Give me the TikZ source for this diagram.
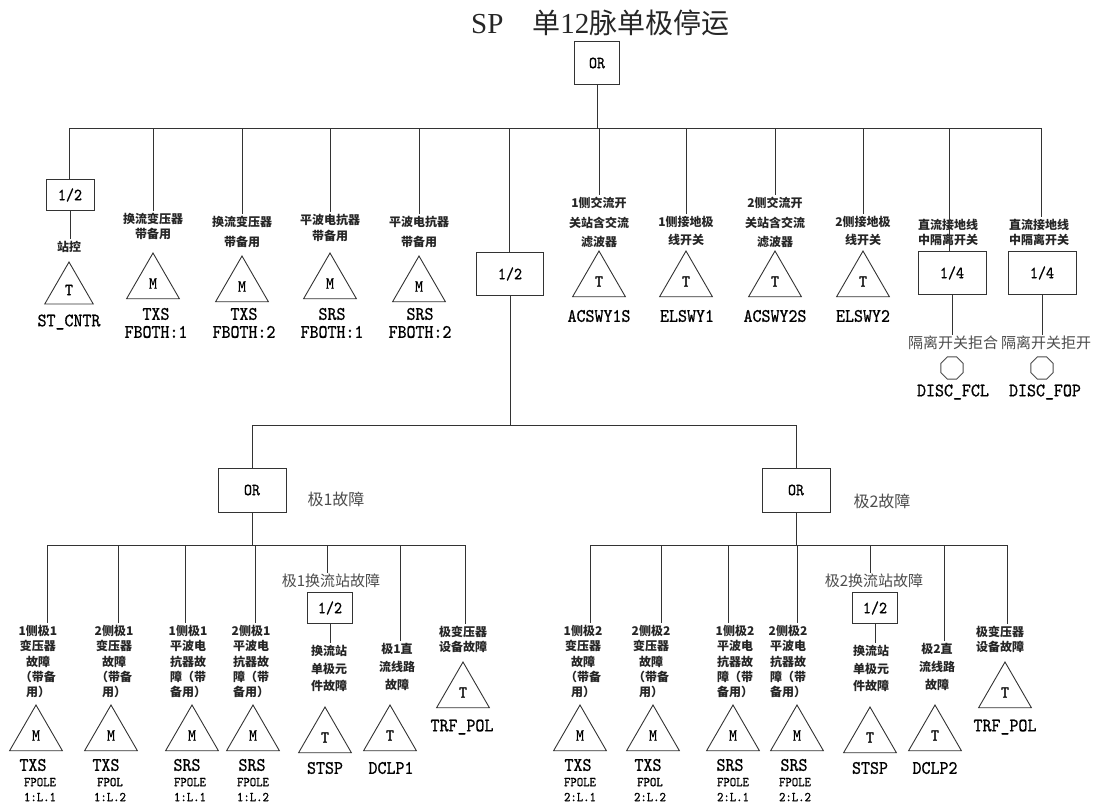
\documentclass[tikz,border=0pt]{standalone}
\usepackage{fontspec}
\setmainfont{Liberation Serif}
\newfontfamily\cjk{Noto Sans CJK SC}
\newfontfamily\lab[FakeStretch=0.9,FakeBold=0.8]{lmmono10-regular.otf}
\usetikzlibrary{shapes.geometric}
\newcommand\titlecjk[1]{{\cjk\fontsize{28}{28}\selectfont #1}}
\begin{document}
\begin{tikzpicture}[x=1pt,y=-1pt,
  ln/.style={draw=black!80,line width=0.9pt},
  gate/.style={draw=black!80,line width=0.9pt,rectangle,inner sep=0pt,font=\lab\fontsize{17}{17}\selectfont},
  tri/.style={draw=black!80,line width=0.9pt,regular polygon,regular polygon sides=3,minimum size=61pt,inner sep=0pt,font=\lab\fontsize{17}{17}\selectfont},
  oct/.style={draw=black!70,line width=0.9pt,regular polygon,regular polygon sides=8,minimum size=24pt,inner sep=0pt},
  lbl/.style={font={\cjk\bfseries\fontsize{12}{#1}\selectfont},text=black!85,align=center,inner sep=2pt},
  lbl/.default=16,
  note/.style={font={\cjk\fontsize{#1}{#1}\selectfont},text=black!70,inner sep=1pt},
  note/.default=15,
  code/.style={font={\lab\fontsize{19}{18}\selectfont},align=center,inner sep=1pt},
  small/.style={font={\lab\fontsize{13.5}{15}\selectfont},align=center,inner sep=0pt},
  ttl/.style={font=\fontsize{29}{29}\selectfont,text=black!85,inner sep=0pt}
]
\path[use as bounding box] (0,0) rectangle (1098,809);

% title
\node[ttl,anchor=west] (title) at (471,23) {SP\hspace{29pt}\titlecjk{单}12\titlecjk{脉单极停运}};

% top gate and top bar
\node[gate,minimum width=45pt,minimum height=43pt] (top) at (597,63) {OR};
\coordinate (j0) at (597,128);
\coordinate (t1) at (69,128);
\coordinate (t2) at (153,128);
\coordinate (t3) at (242,128);
\coordinate (t4) at (330,128);
\coordinate (t5) at (419,128);
\coordinate (t6) at (509,128);
\coordinate (t7) at (599,128);
\coordinate (t8) at (686,128);
\coordinate (t9) at (775,128);
\coordinate (t10) at (863,128);
\coordinate (t11) at (949,128);
\coordinate (t12) at (1041,128);
\draw[ln] (top.south) -- (j0);
\draw[ln] (t1) -- (t12);

% child 1: station control
\node[gate,minimum width=48pt,minimum height=31pt] (a1) at (70,195) {1/2};
\node[lbl] (a1x) at (69,247) {站控};
\node[tri,minimum size=56pt] (a1t) at (69,290) {T};
\node[code] (a1c) at (69,322) {ST\_CNTR};
\draw[ln] (t1) -- (t1 |- a1.north);
\draw[ln] (a1.south) -- (a1.south |- a1x.north);

% child 2
\node[lbl=15] (a2x) at (153,226.5) {换流变压器\\带备用};
\node[tri] (a2t) at (153,283.5) {M};
\node[code] (a2c) at (156,323) {TXS\\FBOTH:1};
\draw[ln] (t2) -- (t2 |- a2x.north);

% child 3
\node[lbl=20] (a3x) at (242,232) {换流变压器\\带备用};
\node[tri] (a3t) at (242,286.5) {M};
\node[code] (a3c) at (244,323) {TXS\\FBOTH:2};
\draw[ln] (t3) -- (t3 |- a3x.north);

% child 4
\node[lbl=16] (a4x) at (330,228) {平波电抗器\\带备用};
\node[tri] (a4t) at (330,283.5) {M};
\node[code] (a4c) at (332,323) {SRS\\FBOTH:1};
\draw[ln] (t4) -- (t4 |- a4x.north);

% child 5
\node[lbl=20] (a5x) at (419,232) {平波电抗器\\带备用};
\node[tri] (a5t) at (419,286.5) {M};
\node[code] (a5c) at (420,323) {SRS\\FBOTH:2};
\draw[ln] (t5) -- (t5 |- a5x.north);

% child 6: middle 1/2
\node[gate,minimum width=67pt,minimum height=43pt] (mid) at (510,274) {1/2};
\draw[ln] (t6) -- (t6 |- mid.north);

% child 7
\node[lbl=19.5] (a7x) at (599,222.5) {1侧交流开\\关站含交流\\滤波器};
\node[tri] (a7t) at (599,281.5) {T};
\node[code] (a7c) at (599,316) {ACSWY1S};
\draw[ln] (t7) -- (t7 |- a7x.north);

% child 8
\node[lbl=18] (a8x) at (686,231) {1侧接地极\\线开关};
\node[tri] (a8t) at (686,281.5) {T};
\node[code] (a8c) at (687,316) {ELSWY1};
\draw[ln] (t8) -- (t8 |- a8x.north);

% child 9
\node[lbl=19.5] (a9x) at (775,222.5) {2侧交流开\\关站含交流\\滤波器};
\node[tri] (a9t) at (775,281.5) {T};
\node[code] (a9c) at (775,316) {ACSWY2S};
\draw[ln] (t9) -- (t9 |- a9x.north);

% child 10
\node[lbl=18] (a10x) at (863,231) {2侧接地极\\线开关};
\node[tri] (a10t) at (863,281.5) {T};
\node[code] (a10c) at (863,316) {ELSWY2};
\draw[ln] (t10) -- (t10 |- a10x.north);

% child 11
\node[lbl=15] (a11x) at (948,232) {直流接地线\\中隔离开关};
\node[gate,minimum width=68pt,minimum height=43pt] (a11b) at (952,273) {1/4};
\node[note] (a11n) at (953,343) {隔离开关拒合};
\node[oct] (a11o) at (952,368) {};
\node[code] (a11c) at (953,392) {DISC\_FCL};
\draw[ln] (t11) -- (t11 |- a11b.north);
\draw[ln] (a11b.south) -- (a11b.south |- a11n.north);

% child 12
\node[lbl=15] (a12x) at (1039,232) {直流接地线\\中隔离开关};
\node[gate,minimum width=68pt,minimum height=43pt] (a12b) at (1042,273) {1/4};
\node[note] (a12n) at (1046,343) {隔离开关拒开};
\node[oct] (a12o) at (1042,368) {};
\node[code] (a12c) at (1045,392) {DISC\_FOP};
\draw[ln] (t12) -- (t12 |- a12x.north);
\draw[ln] (a12b.south) -- (a12b.south |- a12n.north);

% middle bar and pole gates
\coordinate (mc) at (510,425);
\coordinate (pL) at (252,425);
\coordinate (pR) at (796,425);
\draw[ln] (mid.south) -- (mc);
\draw[ln] (pL) -- (pR);
\node[gate,minimum width=68pt,minimum height=44pt] (orL) at (252,490) {OR};
\node[gate,minimum width=68pt,minimum height=44pt] (orR) at (796,490) {OR};
\node[note=16] (orLn) at (336,499) {极1故障};
\node[note=16] (orRn) at (882,501) {极2故障};
\draw[ln] (pL) -- (orL.north);
\draw[ln] (pR) -- (orR.north);

% ---------- pole 1 ----------
\coordinate (bl) at (252,545);
\draw[ln] (orL.south) -- (bl);
\coordinate (l1) at (47,545);
\coordinate (l2) at (118,545);
\coordinate (l3) at (185,545);
\coordinate (l4) at (255,545);
\coordinate (l5) at (327,545);
\coordinate (l6) at (400,545);
\coordinate (l7) at (465,545);
\draw[ln] (l1) -- (l7);

\node[lbl=15.25] (l1x) at (38,661.5) {1侧极1\\变压器\\故障\\（带备\\用）};
\node[tri] (l1t) at (36,735.5) {M};
\node[code] (l1c) at (33,765) {TXS};
\node[small] (l1s) at (40,789.5) {FPOLE\\1:L.1};
\draw[ln] (l1) -- (l1 |- l1x.north);

\node[lbl=15.25] (l2x) at (114,661.5) {2侧极1\\变压器\\故障\\（带备\\用）};
\node[tri] (l2t) at (111,735.5) {M};
\node[code] (l2c) at (106,765) {TXS};
\node[small] (l2s) at (110,789.5) {FPOL\\1:L.2};
\draw[ln] (l2) -- (l2 |- l2x.north);

\node[lbl=15.25] (l3x) at (188,661.5) {1侧极1\\平波电\\抗器故\\障（带\\备用）};
\node[tri] (l3t) at (192,735.5) {M};
\node[code] (l3c) at (187,765) {SRS};
\node[small] (l3s) at (190,789.5) {FPOLE\\1:L.1};
\draw[ln] (l3) -- (l3 |- l3x.north);

\node[lbl=15.25] (l4x) at (251,661.5) {2侧极1\\平波电\\抗器故\\障（带\\备用）};
\node[tri] (l4t) at (253,735.5) {M};
\node[code] (l4c) at (252,765) {SRS};
\node[small] (l4s) at (253,789.5) {FPOLE\\1:L.2};
\draw[ln] (l4) -- (l4 |- l4x.north);

\node[note] (l5n) at (331,581) {极1换流站故障};
\node[gate,minimum width=45pt,minimum height=31pt] (l5b) at (330,608) {1/2};
\node[lbl=17.5] (l5x) at (329,668.5) {换流站\\单极元\\件故障};
\node[tri] (l5t) at (325,737.5) {T};
\node[code] (l5c) at (325,768) {STSP};
\draw[ln] (l5) -- (l5 |- l5n.north);
\draw[ln] (l5b.south) -- (l5b.south |- l5x.north);

\node[lbl=18] (l6x) at (397,667) {极1直\\流线路\\故障};
\node[tri] (l6t) at (390,735.5) {T};
\node[code] (l6c) at (391,768) {DCLP1};
\draw[ln] (l6) -- (l6 |- l6x.north);

\node[lbl=15.5] (l7x) at (463,639.5) {极变压器\\设备故障};
\node[tri] (l7t) at (463,692.5) {T};
\node[code] (l7c) at (462,727) {TRF\_POL};
\draw[ln] (l7) -- (l7 |- l7x.north);

% ---------- pole 2 ----------
\coordinate (br) at (796,545);
\draw[ln] (orR.south) -- (br);
\coordinate (r1) at (590,545);
\coordinate (r2) at (661,545);
\coordinate (r3) at (728,545);
\coordinate (r4) at (797,545);
\coordinate (r5) at (870,545);
\coordinate (r6) at (944,545);
\coordinate (r7) at (1007,545);
\draw[ln] (r1) -- (r7);

\node[lbl=15.25] (r1x) at (583,661.5) {1侧极2\\变压器\\故障\\（带备\\用）};
\node[tri] (r1t) at (580,735.5) {M};
\node[code] (r1c) at (578,765) {TXS};
\node[small] (r1s) at (580,789.5) {FPOLE\\2:L.1};
\draw[ln] (r1) -- (r1 |- r1x.north);

\node[lbl=15.25] (r2x) at (651,661.5) {2侧极2\\变压器\\故障\\（带备\\用）};
\node[tri] (r2t) at (653,735.5) {M};
\node[code] (r2c) at (648,765) {TXS};
\node[small] (r2s) at (650,789.5) {FPOL\\2:L.2};
\draw[ln] (r2) -- (r2 |- r2x.north);

\node[lbl=15.25] (r3x) at (735,661.5) {1侧极2\\平波电\\抗器故\\障（带\\备用）};
\node[tri] (r3t) at (733,735.5) {M};
\node[code] (r3c) at (730,765) {SRS};
\node[small] (r3s) at (733,789.5) {FPOLE\\2:L.1};
\draw[ln] (r3) -- (r3 |- r3x.north);

\node[lbl=15.25] (r4x) at (788,661.5) {2侧极2\\平波电\\抗器故\\障（带\\备用）};
\node[tri] (r4t) at (797,735.5) {M};
\node[code] (r4c) at (794,765) {SRS};
\node[small] (r4s) at (795,789.5) {FPOLE\\2:L.2};
\draw[ln] (r4) -- (r4 |- r4x.north);

\node[note] (r5n) at (874,581) {极2换流站故障};
\node[gate,minimum width=45pt,minimum height=31pt] (r5b) at (875,608) {1/2};
\node[lbl=17.5] (r5x) at (871,668.5) {换流站\\单极元\\件故障};
\node[tri] (r5t) at (870,737.5) {T};
\node[code] (r5c) at (870,768) {STSP};
\draw[ln] (r5) -- (r5 |- r5n.north);
\draw[ln] (r5b.south) -- (r5b.south |- r5x.north);

\node[lbl=18] (r6x) at (937,667) {极2直\\流线路\\故障};
\node[tri] (r6t) at (935,735.5) {T};
\node[code] (r6c) at (935,768) {DCLP2};
\draw[ln] (r6) -- (r6 |- r6x.north);

\node[lbl=15.5] (r7x) at (1000,639.5) {极变压器\\设备故障};
\node[tri] (r7t) at (1005,692.5) {T};
\node[code] (r7c) at (1005,727) {TRF\_POL};
\draw[ln] (r7) -- (r7 |- r7x.north);
\end{tikzpicture}
\end{document}
